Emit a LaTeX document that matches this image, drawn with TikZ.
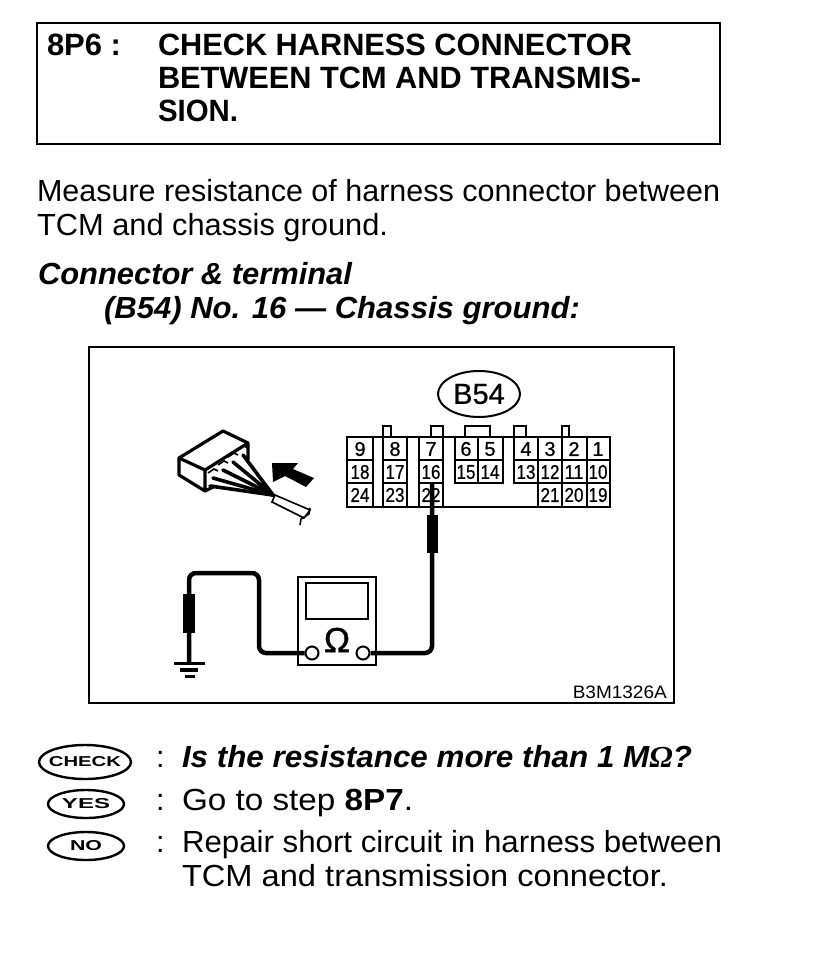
\documentclass[tikz,border=0pt]{standalone}
\usepackage{fontspec}
\setmainfont{Liberation Sans}
\newfontfamily\serifomega{Liberation Serif}
\newfontfamily\heavyfont[FakeBold=1.2]{Liberation Sans}
\newfontfamily\pinfont[FakeBold=0.7]{Liberation Sans}
\usetikzlibrary{shapes.geometric}
\tikzset{
  txt/.style={anchor=base west,inner sep=0pt,outer sep=0pt,font=\fontsize{30.5}{34}\selectfont},
  ttl/.style={txt,font=\fontsize{30.8}{34}\bfseries\selectfont},
  bi/.style={txt,font=\fontsize{30.5}{34}\bfseries\itshape\selectfont},
  pin/.style={inner sep=0pt,font=\fontsize{20}{20}\pinfont\selectfont},
  cell/.style={draw=black,line width=2.5pt},
  frame/.style={draw=black,line width=2pt},
  wire/.style={draw=black,line width=4.5pt,rounded corners=7pt},
  probe/.style={fill=black,draw=none},
  tag/.style={ellipse,draw=black,line width=2.4pt,outer sep=0pt,inner ysep=-2pt,minimum width=#1},
  thinline/.style={draw=black,line width=1.6pt},
  heavy/.style={draw=black,line width=3.2pt,line join=round},
  lead/.style={draw=black,line width=3.6pt,line cap=round},
}
\newcommand{\tagword}[3]{\resizebox{#2pt}{#3pt}{\fontsize{14}{14}\bfseries\selectfont #1}}
\newcommand{\hfit}[2]{\resizebox{#1pt}{\height}{#2}}
\newcommand{\twod}[1]{\resizebox{19pt}{\height}{\fontsize{20}{20}\pinfont\selectfont #1}}
\begin{document}
\begin{tikzpicture}[x=1pt,y=-1pt]
\useasboundingbox (0,0) rectangle (816,968);
\fill[white] (0,0) rectangle (816,968);
% title box
\draw[frame] (37,23) rectangle (720,144);
\node[ttl] (t0) at (47,56) {\hfit{74}{8P6 :}};
\node[ttl] (t1) at (158,56) {\hfit{474}{CHECK HARNESS CONNECTOR}};
\node[ttl] (t2) at (158,89) {\hfit{483}{BETWEEN TCM AND TRANSMIS-}};
\node[ttl] (t3) at (158,122) {\hfit{80}{SION.}};
% body
\node[txt] (b1) at (37,202) {\hfit{683}{Measure resistance of harness connector between}};
\node[txt] (b2) at (37,236) {\hfit{351}{TCM and chassis ground.}};
\node[bi] (c1) at (38,284) {\hfit{314}{Connector \& terminal}};
\node[bi] (c2) at (104,318) {\hfit{476}{(B54) No. 16 — Chassis ground:}};
% figure frame
\draw[frame] (89,347) rectangle (674,703);
\node[anchor=base east,inner sep=0pt,font=\fontsize{18}{18}\selectfont] (code) at (667,698) {\hfit{94}{B3M1326A}};
\node[ellipse,draw=black,line width=2pt,minimum width=82pt,minimum height=46pt,inner xsep=-6pt,inner ysep=-4pt,font=\fontsize{29}{29}\pinfont\selectfont] (b54) at (479,394) {B54};
% connector tabs
\foreach \a/\b in {383/391,431/443,465/490,514/526,562/569}
  \draw[thinline] (\a,437) -- (\a,426) -- (\b,426) -- (\b,437);
% connector body
\draw[cell] (347,437) -- (610,437);
\draw[cell] (347,507) -- (610,507);
\foreach \a/\b/\n in {347/373/9,383/407/8,419/443/7,455/478/6,478/503/5,514/538/4,538/562/3,562/587/2,587/610/1}
  \draw[cell] (\a,437) rectangle (\b,460);
\foreach \a/\b in {347/373,383/407,419/443,455/478,478/503,514/538,538/562,562/587,587/610}
  \draw[cell] (\a,460) rectangle (\b,483);
\foreach \a/\b in {347/373,383/407,419/443,538/562,562/587,587/610}
  \draw[cell] (\a,483) rectangle (\b,507);
\foreach \x/\n in {360/9,395/8,431/7,466/6,490/5,526/4,550/3,574/2,598/1}
  \node[pin] (p\n) at (\x,449) {\n};
\foreach \x/\n in {360/18,395/17,431/16,466/15,490/14,526/13,550/12,574/11,598/10}
  \node[pin] (p\n) at (\x,472) {\twod{\n}};
\foreach \x/\n in {360/24,395/23,431/22,550/21,574/20,598/19}
  \node[pin] (p\n) at (\x,495) {\twod{\n}};
% meter
\draw[frame] (298,577) rectangle (376,665);
\draw[draw=black,line width=2.5pt] (306,583) rectangle (368,619);
\node[inner sep=0pt,font=\fontsize{35}{35}\heavyfont\selectfont] (ohm) at (337,640) {Ω};
\node[circle,draw=black,line width=2pt,minimum size=13pt,inner sep=0pt] (tl) at (312,653) {};
\node[circle,draw=black,line width=2pt,minimum size=13pt,inner sep=0pt] (tr) at (363,653) {};
% wires
\coordinate (pa) at (432,483);
\coordinate (ga) at (189,663);
\draw[wire] (tr.east) -- (432,653) -- (pa);
\draw[wire] (tl.west) -- (259,653) -- (259,573) -- (189,573) -- (ga);
\fill[probe] (427,515) rectangle (438,553);
\fill[probe] (183,594) rectangle (195,633);
% ground
\draw[draw=black,line width=3pt] (174,663) -- (205,663);
\draw[draw=black,line width=3.5pt] (180,670) -- (198,670);
\draw[draw=black,line width=3pt] (185,676) -- (195,676);
% small connector drawing
\draw[heavy] (179,458) -- (223,431) -- (248,443) -- (248,460);
\draw[heavy] (179,458) -- (179,475) -- (205,491) -- (205,470) -- cycle;
\draw[heavy] (205,470) -- (248,443);
\draw[heavy] (205,491) -- (215,486);
\foreach \x/\y in {208/473,218/465,228/457,238/450}
  \draw[thinline] (\x,\y) -- ++(6,-4) -- ++(4,2);
\coordinate (hub) at (273,495);
\foreach \x/\y in {210/486,213/478,223/470,233/462,243/455}
  \draw[lead] (\x,\y) -- (hub);
\draw[thinline] (275,495) -- (310,510) -- (304,518) -- (272,502) -- cycle;
\draw[thinline] (310,508) -- (309,514) -- (301,519) -- (300,525);
\fill[black] (272,463) -- (298,463) -- (293,469) -- (314,478) -- (306,487) -- (285,476) -- (273,482) -- cycle;
% answers
\node[tag=92pt,minimum height=34pt,inner xsep=-6pt] (chk) at (85,762) {\tagword{CHECK}{72}{10}};
\node[tag=76pt,minimum height=28pt,inner xsep=-3pt] (yes) at (86,804) {\tagword{YES}{48}{10}};
\node[tag=76pt,minimum height=28pt,inner xsep=0pt] (no) at (86,846) {\tagword{NO}{32}{10}};
\node[txt] (s1) at (156,767) {:};
\node[txt] (s2) at (156,810) {:};
\node[txt] (s3) at (156,852) {:};
\node[bi] (a1) at (182,767) {\hfit{510}{Is the resistance more than 1 M{\serifomega Ω}?}};
\node[txt] (a2) at (182,810) {\hfit{231}{Go to step \textbf{8P7}.}};
\node[txt] (a3) at (182,852) {\hfit{540}{Repair short circuit in harness between}};
\node[txt] (a4) at (182,886) {\hfit{486}{TCM and transmission connector.}};
\end{tikzpicture}
\end{document}
